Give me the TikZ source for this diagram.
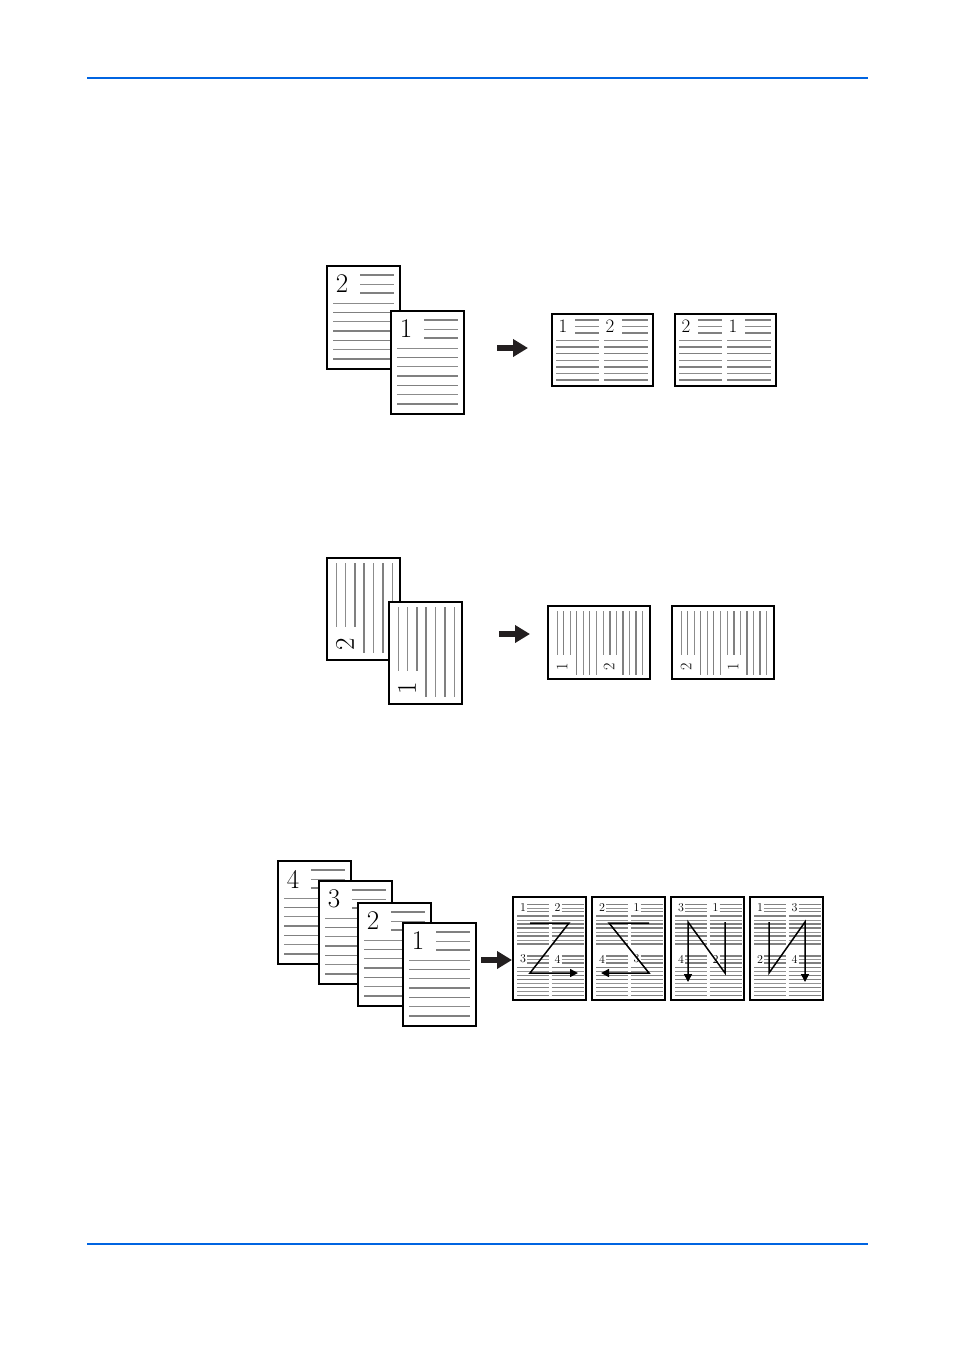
\documentclass[tikz,border=0pt]{standalone}
\usepackage{tikz}
\usetikzlibrary{arrows.meta}
\definecolor{rulerblue}{RGB}{0,100,225}
\definecolor{arrowink}{RGB}{35,31,32}
\tikzset{
    sheet/.style={draw=black, line width=1.1pt, fill=white},
    heavyrule/.style={draw=black!50, line width=1.6pt},
    lightrule/.style={draw=black!45, line width=0.8pt},
    quadheavy/.style={draw=black!50, line width=1.2pt},
    quadlight/.style={draw=black!42, line width=0.7pt},
    bignum/.style={inner sep=0pt, font=\fontsize{27}{27}\selectfont},
    midnum/.style={inner sep=0pt, font=\fontsize{19}{19}\selectfont},
    turnnum/.style={inner sep=0pt, font=\fontsize{16}{16}\selectfont},
    smallnum/.style={inner sep=0pt, font=\fontsize{12}{12}\selectfont},
    blockarrow/.style={draw=arrowink, line width=5.5pt, -{Triangle[length=15pt,width=17pt]}},
    orderpath/.style={draw=black, line width=1.5pt, line join=miter},
    orderarrow/.style={orderpath, -{Triangle[length=8pt,width=8pt]}},
    headrule/.style={draw=rulerblue, line width=1.2pt}
}
% portrait sheet, number top left
\newcommand{\portraitsheet}[4]{%
  \begin{scope}[shift={(#1,#2)}]
    \draw[sheet] (0,0) rectangle (73,103);
    \node[bignum] (#4) at (15,18) {#3};
    \foreach \yy/\rr in {9/heavyrule,18/lightrule,27/heavyrule}
      \draw[\rr] (33,\yy) -- (67,\yy);
    \foreach \yy/\rr in {37/lightrule,46.3/heavyrule,55.7/lightrule,65/heavyrule,74.3/heavyrule,83.7/lightrule,93/heavyrule}
      \draw[\rr] (6,\yy) -- (67,\yy);
  \end{scope}}
% portrait sheet, text turned
\newcommand{\turnedsheet}[4]{%
  \begin{scope}[shift={(#1,#2)}]
    \draw[sheet] (0,0) rectangle (73,102);
    \node[bignum, rotate=90] (#4) at (18,86) {#3};
    \foreach \xx/\rr in {9/lightrule,18/lightrule,28/heavyrule}
      \draw[\rr] (\xx,5) -- (\xx,69);
    \foreach \xx/\rr in {37/heavyrule,46/lightrule,56/heavyrule,65/lightrule}
      \draw[\rr] (\xx,5) -- (\xx,95);
  \end{scope}}
% 2 up, lines across
\newcommand{\wideflat}[5]{%
  \begin{scope}[shift={(#1,#2)}]
    \draw[sheet] (0,0) rectangle (101,72);
    \node[midnum] (#5-l) at (11,12) {#3};
    \node[midnum] (#5-r) at (58,12) {#4};
    \foreach \xa/\xb in {23/47,70/96}
      \foreach \yy/\rr in {6/heavyrule,12.5/lightrule,19/heavyrule}
        \draw[\rr] (\xa,\yy) -- (\xb,\yy);
    \foreach \xa/\xb in {4/47,52/96}
      \foreach \yy/\rr in {26/lightrule,32.7/heavyrule,39.3/heavyrule,46/lightrule,52.7/heavyrule,59.3/lightrule,66/heavyrule}
        \draw[\rr] (\xa,\yy) -- (\xb,\yy);
  \end{scope}}
% 2 up, lines upright
\newcommand{\wideupright}[5]{%
  \begin{scope}[shift={(#1,#2)}]
    \draw[sheet] (0,0) rectangle (102,73);
    \node[turnnum, rotate=90] (#5-l) at (14,61) {#3};
    \node[turnnum, rotate=90] (#5-r) at (61,61) {#4};
    \foreach \xo in {0,46.5}{
      \foreach \xx/\rr in {9/lightrule,15.5/heavyrule,22/lightrule}
        \draw[\rr] (\xo+\xx,5) -- (\xo+\xx,49);
      \foreach \xx/\rr in {28.5/heavyrule,35/lightrule,41.5/heavyrule,48/lightrule}
        \draw[\rr] (\xo+\xx,5) -- (\xo+\xx,69);
    }
  \end{scope}}
% 4 up
\newcommand{\fourup}[7]{%
  \begin{scope}[shift={(#1,#2)}]
    \draw[sheet] (0,0) rectangle (73,103);
    \node[smallnum] (#7-a) at (10,10.5) {#3};
    \node[smallnum] (#7-b) at (44.5,10.5) {#4};
    \node[smallnum] (#7-c) at (10,62) {#5};
    \node[smallnum] (#7-d) at (44.5,62) {#6};
    \foreach \qx in {0,34.5}
      \foreach \qy in {0,51.5}{
        \foreach \yy/\rr in {7.5/quadheavy,11/quadlight,14.5/quadheavy}
          \draw[\rr] (\qx+14,\qy+\yy) -- (\qx+36,\qy+\yy);
        \foreach \yy/\rr in {19/quadheavy,23/quadlight,27/quadheavy,31/quadheavy,35/quadlight,39/quadheavy,43/quadlight,47/quadheavy}
          \draw[\rr] (\qx+4,\qy+\yy) -- (\qx+36,\qy+\yy);
      }
  \end{scope}}

\begin{document}
\begin{tikzpicture}[x=1pt, y=-1pt]
    \useasboundingbox (0,0) rectangle (954,1350);
    \draw[headrule] (87,78) -- (868,78);
    \draw[headrule] (87,1244) -- (868,1244);

    % 2 in 1, left to right
    \portraitsheet{327}{266}{2}{topback}
    \portraitsheet{391}{311}{1}{topfront}
    \coordinate (toptail) at (497,348);
    \coordinate (tophead) at (528,348);
    \draw[blockarrow] (toptail) -- (tophead);
    \wideflat{552}{314}{1}{2}{topleft}
    \wideflat{675}{314}{2}{1}{topright}

    % 2 in 1, turned
    \turnedsheet{327}{558}{2}{midback}
    \turnedsheet{389}{602}{1}{midfront}
    \coordinate (midtail) at (499,634);
    \coordinate (midhead) at (530,634);
    \draw[blockarrow] (midtail) -- (midhead);
    \wideupright{548}{606}{1}{2}{midleft}
    \wideupright{672}{606}{2}{1}{midright}

    % 4 in 1
    \portraitsheet{278}{861}{4}{lowfour}
    \portraitsheet{319}{881}{3}{lowthree}
    \portraitsheet{358}{903}{2}{lowtwo}
    \portraitsheet{403}{923}{1}{lowone}
    \coordinate (lowtail) at (481,960);
    \coordinate (lowhead) at (512,960);
    \draw[blockarrow] (lowtail) -- (lowhead);
    \fourup{513}{897}{1}{2}{3}{4}{za}
    \fourup{592}{897}{2}{1}{4}{3}{zb}
    \fourup{671}{897}{3}{1}{4}{2}{zc}
    \fourup{750}{897}{1}{3}{2}{4}{zd}
    \begin{scope}[shift={(513,897)}]
      \draw[orderarrow] (17,26) -- (56,26) -- (17,76) -- (65,76);
    \end{scope}
    \begin{scope}[shift={(592,897)}]
      \draw[orderarrow] (57,26) -- (17,26) -- (57,76) -- (9,76);
    \end{scope}
    \begin{scope}[shift={(671,897)}]
      \draw[orderarrow] (54,25) -- (54,76) -- (17,25) -- (17,85);
    \end{scope}
    \begin{scope}[shift={(750,897)}]
      \draw[orderarrow] (19,25) -- (19,76) -- (55,25) -- (55,85);
    \end{scope}
\end{tikzpicture}
\end{document}
